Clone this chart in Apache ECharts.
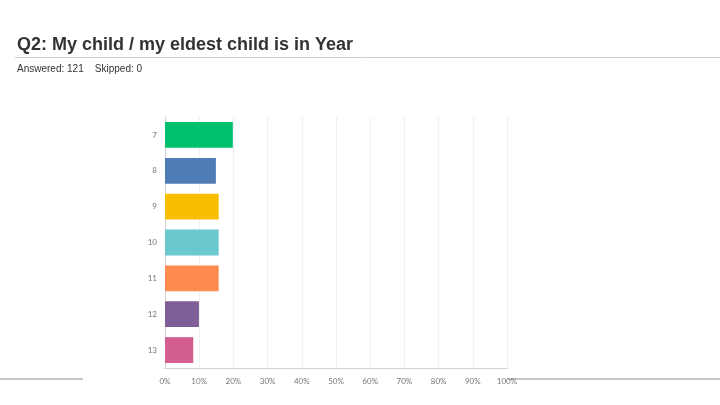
<!DOCTYPE html>
<html><head><meta charset="utf-8">
<script src="https://cdn.jsdelivr.net/npm/echarts@6/dist/echarts.min.js"></script>
<style>html,body{margin:0;padding:0;background:#fff}#c{width:720px;height:405px}</style>
</head><body><div id="c"></div>
<script>
const categories = ['7','8','9','10','11','12','13'];
const percentValues = [19.83, 14.88, 15.70, 15.70, 15.70, 9.92, 8.26];
const barColors = ['#00bf6f','#507cb6','#f9be00','#6bc8cd','#ff8b4f','#7f5f98','#d25f90'];
const titleText = 'Q2: My child / my eldest child is in Year';
const subText = 'Answered: 121    Skipped: 0';

const chart = echarts.init(document.getElementById('c'));
chart.setOption({
  animation: false,
  title: {
    text: titleText,
    subtext: subText,
    left: 17, top: 36, padding: 0,
    itemGap: 10,
    textStyle: {fontFamily: 'Liberation Sans', fontWeight: 'bold', fontSize: 18, color: '#333'},
    subtextStyle: {fontFamily: 'Liberation Sans', fontSize: 10, color: '#333'}
  },
  graphic: [
    {type: 'line', shape: {x1: 15, y1: 57.5, x2: 720, y2: 57.5}, style: {stroke: '#cfcfcf', lineWidth: 1}},
    {type: 'line', shape: {x1: 0, y1: 379, x2: 83, y2: 379}, style: {stroke: '#c8c8c8', lineWidth: 2}},
    {type: 'line', shape: {x1: 507, y1: 379, x2: 720, y2: 379}, style: {stroke: '#c8c8c8', lineWidth: 2}}
  ],
  grid: {left: 165, right: 213, top: 117, bottom: 37},
  xAxis: {
    type: 'value', min: 0, max: 100, interval: 10,
    axisLine: {show: true, lineStyle: {color: '#d0d0d0'}},
    axisTick: {show: false},
    splitLine: {show: true, lineStyle: {color: '#f0f0f0'}},
    axisLabel: {formatter: '{value}%', fontFamily: 'Lato', fontSize: 8, color: '#777', margin: 9}
  },
  yAxis: {
    type: 'category', data: categories, inverse: true,
    axisLine: {show: true, lineStyle: {color: '#d0d0d0'}},
    axisTick: {show: false},
    axisLabel: {fontFamily: 'Lato', fontSize: 8, color: '#777', margin: 8}
  },
  series: [{
    type: 'bar',
    data: percentValues.map((v, i) => ({value: v, itemStyle: {color: barColors[i]}})),
    barCategoryGap: '28%'
  }]
});
</script></body></html>
